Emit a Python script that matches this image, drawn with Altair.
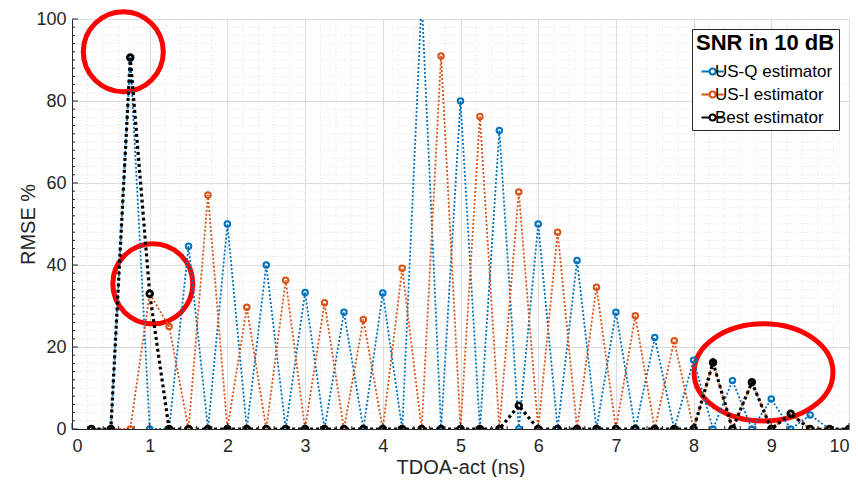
import altair as alt
import pandas as pd

# ---- data ----
tdoa = [0.25, 0.5, 0.75, 1.0, 1.25, 1.5, 1.75, 2.0, 2.25, 2.5,
        2.75, 3.0, 3.25, 3.5, 3.75, 4.0, 4.25, 4.5, 4.75, 5.0,
        5.25, 5.5, 5.75, 6.0, 6.25, 6.5, 6.75, 7.0, 7.25, 7.5,
        7.75, 8.0, 8.25, 8.5, 8.75, 9.0, 9.25, 9.5, 9.75, 10.0]

us_q = [0, 0, 90.5, 0, 0, 44.6, 0, 50.0, 0, 40.0,
        0, 33.3, 0, 28.5, 0, 33.2, 0, 105.0, 0, 80.0,
        0, 72.8, 0, 50.0, 0, 41.1, 0, 28.5, 0, 22.3,
        0, 16.8, 0, 11.8, 0, 7.3, 0, 3.4, 0, 0]

us_i = [0, 0, 0, 33.0, 25.0, 0, 57.1, 0, 29.7, 0,
        36.3, 0, 30.8, 0, 26.7, 0, 39.2, 0, 91.0, 0,
        76.2, 0, 57.8, 0, 48.0, 0, 34.6, 0, 27.6, 0,
        21.5, 0, 16.2, 0, 11.4, 0, 3.7, 0, 0, 0]

best = [0, 0, 90.6, 33.0, 0, 0, 0, 0, 0, 0,
        0, 0, 0, 0, 0, 0, 0, 0, 0, 0,
        0, 0, 5.7, 0, 0, 0, 0, 0, 0, 0,
        0, 0, 16.2, 0, 11.4, 0, 3.7, 0, 0, 0]

series_names = ["US-Q estimator", "US-I estimator", "Best estimator"]
series_colors = ["#0072BD", "#D95319", "#000000"]

x_major = [0, 1, 2, 3, 4, 5, 6, 7, 8, 9, 10]
y_major = [0, 20, 40, 60, 80, 100]
x_minor = [round(i * 0.2, 2) for i in range(51) if i % 5 != 0]
y_minor = [i * 2 for i in range(51) if i % 10 != 0]

# highlighted regions (red rings) in data coordinates
ring_t = [0.66, 1.04]
ring_v = [92.0, 35.4]
oval_t = [8.9]
oval_v = [13.8]

FONT = "Liberation Sans"
AX = "#262626"

rows = []
for name, vals in zip(series_names, [us_q, us_i, best]):
    for t, v in zip(tdoa, vals):
        rows.append({"t": t, "rmse": v, "series": name})
df = pd.DataFrame(rows)

xscale = alt.Scale(domain=[0, 10], nice=False, zero=False)
yscale = alt.Scale(domain=[0, 100], nice=False)

x_axis = alt.Axis(values=x_major, title="TDOA-act (ns)", grid=True,
                  gridColor="#dcdcdc", gridWidth=1, ticks=False,
                  domainColor=AX, labelColor=AX, titleColor=AX,
                  labelFontSize=18, titleFontSize=20, labelFont=FONT,
                  titleFont=FONT, titleFontWeight="normal", labelPadding=8,
                  titlePadding=2, format="d")
y_axis = alt.Axis(values=y_major, title="RMSE %", grid=True,
                  gridColor="#dcdcdc", gridWidth=1, ticks=False,
                  domainColor=AX, labelColor=AX, titleColor=AX,
                  labelFontSize=18, titleFontSize=20, labelFont=FONT,
                  titleFont=FONT, titleFontWeight="normal", labelPadding=6,
                  titlePadding=-3, format="d")

color = alt.Color(
    "series:N",
    scale=alt.Scale(domain=series_names, range=series_colors),
    legend=alt.Legend(
        title="SNR in 10 dB", titleFontSize=22, titleFontWeight="bold",
        titleColor="black", titleFont=FONT, titlePadding=8,
        labelFont=FONT, labelFontSize=17, labelColor="black",
        orient="top-right", offset=10, strokeColor=AX, fillColor="white",
        padding=4, rowPadding=5,
        symbolType="M -1 0 L 1.7 0 M 3.7 0 L 6.4 0 M 3.7 0 A 1 1 0 1 1 1.7 0 A 1 1 0 1 1 3.7 0",
        symbolSize=36, symbolStrokeWidth=2, symbolFillColor="transparent",
        symbolOffset=0, labelOffset=2,
    ),
)

base_x = alt.X("t:Q", scale=xscale, axis=x_axis)
base_y = alt.Y("rmse:Q", scale=yscale, axis=y_axis)

# minor grid
minor_x = alt.Chart(pd.DataFrame({"t": x_minor})).mark_rule(
    color="#e3e3e3", strokeDash=[1, 2], strokeWidth=1
).encode(x=alt.X("t:Q", scale=xscale))
minor_y = alt.Chart(pd.DataFrame({"rmse": y_minor})).mark_rule(
    color="#e3e3e3", strokeDash=[1, 2], strokeWidth=1
).encode(y=alt.Y("rmse:Q", scale=yscale))

# red highlight rings (drawn beneath the data)
rings = alt.Chart(pd.DataFrame({"t": ring_t, "rmse": ring_v})).mark_point(
    shape="circle", size=6400, filled=False, stroke="#ff0000",
    strokeWidth=5, opacity=1, clip=False
).encode(x=alt.X("t:Q", scale=xscale), y=alt.Y("rmse:Q", scale=yscale))
oval = alt.Chart(pd.DataFrame({"t": oval_t, "rmse": oval_v})).mark_point(
    shape="M -1 0 A 1 0.7 0 1 1 1 0 A 1 0.7 0 1 1 -1 0 Z",
    size=19300, filled=False, stroke="#ff0000", strokeWidth=5, opacity=1,
    clip=False
).encode(x=alt.X("t:Q", scale=xscale), y=alt.Y("rmse:Q", scale=yscale))

layers = [minor_x, minor_y, rings, oval]
styles = {
    "US-Q estimator": dict(dash=[2, 2], lw=1.8, pw=2, ps=30),
    "US-I estimator": dict(dash=[2, 2], lw=1.8, pw=2, ps=30),
    "Best estimator": dict(dash=[3, 3], lw=3.2, pw=2.6, ps=34),
}
for name in series_names:
    st = styles[name]
    sub = df[df["series"] == name]
    line = alt.Chart(sub).mark_line(
        strokeDash=st["dash"], strokeWidth=st["lw"], clip=True
    ).encode(x=base_x, y=base_y, color=color)
    pts = alt.Chart(sub).mark_point(
        filled=False, size=st["ps"], strokeWidth=st["pw"], opacity=1,
        clip=True
    ).encode(x=base_x, y=base_y, color=color)
    layers += [line, pts]

# inward ticks (MATLAB style)
yt_major = alt.Chart(pd.DataFrame({"rmse": y_major})).mark_rule(
    color=AX, strokeWidth=1).encode(
    y=alt.Y("rmse:Q", scale=yscale), x=alt.value(0), x2=alt.value(6))
yt_minor = alt.Chart(pd.DataFrame({"rmse": y_minor})).mark_rule(
    color=AX, strokeWidth=1).encode(
    y=alt.Y("rmse:Q", scale=yscale), x=alt.value(0), x2=alt.value(3))
xt_major = alt.Chart(pd.DataFrame({"t": x_major})).mark_rule(
    color=AX, strokeWidth=1).encode(
    x=alt.X("t:Q", scale=xscale), y=alt.value(410), y2=alt.value(404))
xt_minor = alt.Chart(pd.DataFrame({"t": x_minor})).mark_rule(
    color=AX, strokeWidth=1).encode(
    x=alt.X("t:Q", scale=xscale), y=alt.value(410), y2=alt.value(407))
layers += [yt_major, yt_minor, xt_major, xt_minor]

chart = alt.layer(*layers).properties(
    width=777, height=410,
    autosize=alt.AutoSizeParams(type="none"),
    padding={"left": 64, "top": 11, "right": 1, "bottom": 48},
).configure_view(stroke=None).configure(background="white")

chart.save("out.html", embed_options={"renderer": "svg", "actions": False})
